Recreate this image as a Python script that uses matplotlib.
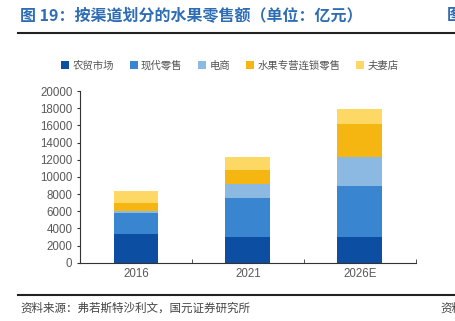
import matplotlib.pyplot as plt
import numpy as np

plt.rcParams['font.family'] = ['Noto Sans CJK SC', 'DejaVu Sans']

years = ['2016', '2021', '2026E']
channels = ['农贸市场', '现代零售', '电商', '水果专营连锁零售', '夫妻店']
farmers_market = [3380, 3030, 2960]
modern_retail = [2440, 4540, 5940]
ecommerce = [200, 1560, 3450]
fruit_chain = [930, 1670, 3770]
mom_pop = [1400, 1550, 1750]
colors = ['#0c4ea1', '#3985cf', '#8bb9e1', '#f6b612', '#fdd865']

series = [farmers_market, modern_retail, ecommerce, fruit_chain, mom_pop]

fig = plt.figure(figsize=(4.55, 3.21), dpi=100)
ax = fig.add_axes([0.1758, 0.1816, 0.7379, 0.5349])

x = np.arange(len(years))
bottom = np.zeros(len(years))
for name, vals, c in zip(channels, series, colors):
    ax.bar(x, vals, 0.4, bottom=bottom, color=c, label=name, edgecolor='none')
    bottom += np.array(vals)

ax.set_xlim(-0.5, 2.5)
ax.set_ylim(0, 20000)
ax.set_yticks(range(0, 20001, 2000))
ax.set_xticks(x)
ax.set_xticklabels(years, family='Liberation Sans')
ax.set_xticks([0.5, 1.5, 2.5], minor=True)
ax.tick_params(axis='x', which='major', length=0, labelsize=8.3, labelcolor='#595959', pad=4)
ax.tick_params(axis='x', which='minor', length=3, direction='in', color='#333333')
ax.tick_params(axis='y', length=2, direction='out', labelsize=8.3, labelcolor='#595959', color='#333333')
for lab in ax.get_yticklabels():
    lab.set_family('Liberation Sans')
for s in ['top', 'right']:
    ax.spines[s].set_visible(False)
ax.spines['left'].set_color('#333333')
ax.spines['bottom'].set_color('#333333')

fig.legend(loc='center', bbox_to_anchor=(0.505, 0.795), ncol=5, frameon=False,
           fontsize=7.5, handlelength=0.8, handleheight=0.8, handletextpad=0.3,
           columnspacing=1.5, labelcolor='#555555')

fig.text(0.044, 0.953, '图 19：按渠道划分的水果零售额（单位：亿元）', fontsize=11.5,
         fontweight='bold', color='#2e6db4', va='center', ha='left')
fig.text(0.983, 0.953, '图', fontsize=11.5, fontweight='bold', color='#2e6db4',
         va='center', ha='left')
fig.add_artist(plt.Line2D([0.04, 1.0], [0.897, 0.897], color='#222222', lw=1.5))
fig.add_artist(plt.Line2D([0.04, 1.0], [0.08, 0.08], color='#222222', lw=1.5))
fig.text(0.044, 0.04, '资料来源：弗若斯特沙利文，国元证券研究所', fontsize=8.3,
         color='#444444', va='center', ha='left')
fig.text(0.968, 0.04, '资料', fontsize=8.3, color='#444444', va='center', ha='left')

fig.savefig('out.png', dpi=100)
